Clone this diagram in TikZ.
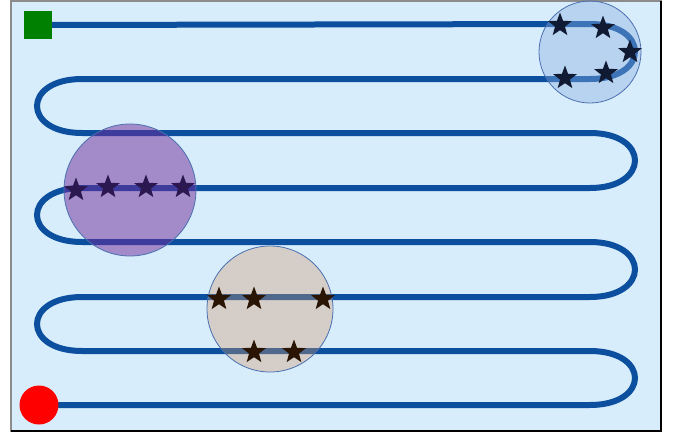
\documentclass[tikz,border=0pt]{standalone}
\usetikzlibrary{shapes.geometric}
\definecolor{fieldbg}{HTML}{D8EDFB}
\definecolor{trackink}{HTML}{0B4F9E}
\definecolor{zoneedge}{HTML}{4A6FB0}
\definecolor{zoneblue}{HTML}{8AACE0}
\definecolor{zonepurple}{HTML}{702B9B}
\definecolor{zonetan}{HTML}{D2976A}
\definecolor{starnavy}{HTML}{111A33}
\definecolor{starplum}{HTML}{2C1850}
\definecolor{starbrown}{HTML}{2A1505}
\tikzset{
  field/.style={fill=fieldbg,draw=black!45,line width=1.5pt},
  track/.style={draw=trackink,line width=6pt,line cap=round},
  zone/.style={circle,draw=zoneedge,line width=0.8pt,fill=#1,inner sep=0pt},
  target/.style={star,star points=5,star point ratio=2.4,
    minimum size=25pt,inner sep=0pt,fill=#1},
  startbox/.style={rectangle,fill=green!50!black,minimum size=28pt,inner sep=0pt},
  goalspot/.style={circle,fill=red,minimum size=39pt,inner sep=0pt},
}
\begin{document}
\begin{tikzpicture}[x=1pt,y=-1pt]
  \path[use as bounding box] (0,0) rectangle (681,434);
  \draw[field] (11,0.8) rectangle (661,431);
  \draw[black,line width=2pt] (11,431) -- (661,431) -- (661,0.8);
  \coordinate (start) at (38,25);
  \coordinate (goal) at (39,405);
  % One long serpentine, turning alternately at the right and left walls.
  \draw[track] (start) -- (590,24) .. controls (650,24) and (650,79) .. (590,79)
    -- (82,79) .. controls (22,79) and (22,133) .. (82,133)
    -- (590,133) .. controls (650,133) and (650,188) .. (590,188)
    -- (82,188) .. controls (22,188) and (22,242) .. (82,242)
    -- (590,242) .. controls (650,242) and (650,297) .. (590,297)
    -- (82,297) .. controls (22,297) and (22,351) .. (82,351)
    -- (590,351) .. controls (650,351) and (650,405) .. (590,405)
    -- (goal);
  \node[zone=zoneblue,fill opacity=0.4,minimum size=102pt] (zoneA) at (590,52) {};
  \node[zone=zonepurple,fill opacity=0.5,minimum size=132pt] (zoneB) at (130,190) {};
  \node[zone=zonetan,fill opacity=0.35,minimum size=126pt] (zoneC) at (270,309) {};
  \foreach \p [count=\i] in {(560,25),(603,28),(630,52),(565,78),(606,73)}
    {\node[target=starnavy] (a\i) at \p {};}
  \foreach \p [count=\i] in {(76,190),(108,187),(146,187),(183,187)}
    {\node[target=starplum] (b\i) at \p {};}
  \foreach \p [count=\i] in {(219,299),(254,299),(323,299),(254,352),(294,352)}
    {\node[target=starbrown] (c\i) at \p {};}
  \node[startbox] (startsq) at (start) {};
  \node[goalspot] (goaldot) at (goal) {};
\end{tikzpicture}
\end{document}
